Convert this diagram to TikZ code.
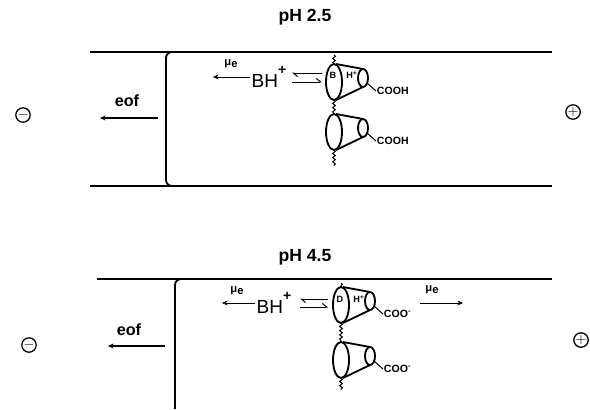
\documentclass[tikz,border=0pt]{standalone}
\usepackage{fontspec}
\setmainfont{Liberation Sans}
\usetikzlibrary{positioning}
\usetikzlibrary{arrows.meta}
\usetikzlibrary{decorations.pathmorphing}

\begin{document}
\begin{tikzpicture}[
                x=0.025cm, y=-0.025cm,
                >={Stealth[length=4pt,width=3.5pt]},
                % Define styles for nodes
                title/.style={font=\bfseries\fontsize{12.5}{14}\selectfont},
                label eof/.style={font=\bfseries\fontsize{11.5}{13}\selectfont},
                mu/.style={font=\bfseries\fontsize{8}{9}\selectfont, inner sep=1pt},
                ion/.style={font=\fontsize{13.5}{15}\selectfont, inner sep=1pt},
                group/.style={font=\bfseries\fontsize{7.5}{8}\selectfont, inner sep=0.5pt},
                guest/.style={font=\bfseries\fontsize{6.5}{7}\selectfont, inner sep=0pt},
                electrode/.style={circle, draw=black, line width=0.9pt, minimum size=0.36cm, inner sep=0pt},
                % Define styles for lines
                wall/.style={line width=1.3pt},
                flow/.style={->, line width=1.6pt},
                drift/.style={->, line width=0.5pt},
                equil/.style={line width=0.7pt},
                chain/.style={decorate, decoration={snake, amplitude=1pt, segment length=3pt}, line width=0.7pt},
                cup/.style={line width=1.3pt},
                % Cyclodextrin cup with its side group
                cyclo/.pic={
                    \draw[cup] (0,0) ellipse [x radius=8, y radius=18];
                    \draw[cup] (2,-18) -- (29,-13) (2,18) -- (29,5);
                    \draw[cup] (29,-4) ellipse [x radius=5, y radius=9];
                    \coordinate (-rim) at (33,1);
                    \coordinate (-top) at (0,-18);
                    \coordinate (-bottom) at (0,18);
                    \node[group, anchor=west] (-acid) at (42,9) {#1};
                    \draw[line width=0.7pt] (-rim) -- (-acid.west);
                }
            ]
                \useasboundingbox (0,0) rectangle (590,409);

                % Top channel, pH 2.5
                \node[title] (ph1) at (305,17) {pH 2.5};
                \draw[wall] (90,52) -- (552,52);
                \draw[wall] (90,186) -- (552,186);
                \draw[wall] (172,52) to[out=180,in=90] (166,58) -- (166,180) to[out=-90,in=180] (172,186);

                \node[electrode] (cathode1) at (23,115) {$-$};
                \node[electrode] (anode1) at (573,112) {$+$};

                \node[label eof] (eof1) at (127,101) {eof};
                \coordinate (eof1 tail) at (158,118);
                \coordinate (eof1 head) at (100,118);
                \draw[flow] (eof1 tail) -- (eof1 head);

                \node[ion] (bh1) at (269,77) {BH\raisebox{1.3ex}{\bfseries\fontsize{10}{10}\selectfont +}};
                \node[mu] (mu1) at (231,64) {μ\raisebox{-.3ex}{e}};
                \coordinate (mu1 head) at (213,77);
                \draw[drift] (bh1.west) -- (mu1 head);

                \pic (cd1) at (334,82) {cyclo=COOH};
                \pic (cd2) at (334,132) {cyclo=COOH};
                \node[guest] (guest1) at (333,75) {B};
                \node[guest] (host1) at (352,75) {H\textsuperscript{+}};

                \coordinate (eq1 left) at (292,73);
                \coordinate (eq1 right) at (322,73);
                \coordinate (eq2 left) at (292,82);
                \coordinate (eq2 right) at (322,82);
                \draw[equil, -{Straight Barb[harpoon,length=3pt,width=5pt]}] (eq1 right) -- (eq1 left);
                \draw[equil, -{Straight Barb[harpoon,length=3pt,width=5pt]}] (eq2 left) -- (eq2 right);

                \coordinate (chain1 top) at (334,55);
                \coordinate (chain1 end) at (334,166);
                \draw[chain] (chain1 top) -- (cd1-top);
                \draw[chain] (cd1-bottom) -- (cd2-top);
                \draw[chain] (cd2-bottom) -- (chain1 end);

                % Bottom channel, pH 4.5
                \node[title] (ph2) at (305,257) {pH 4.5};
                \draw[wall] (97,279) -- (552,279);
                \draw[wall] (181,279) to[out=180,in=90] (175,285) -- (175,409);

                \node[electrode] (cathode2) at (29,345) {$-$};
                \node[electrode] (anode2) at (581,340) {$+$};

                \node[label eof] (eof2) at (129,330) {eof};
                \coordinate (eof2 tail) at (165,346);
                \coordinate (eof2 head) at (108,346);
                \draw[flow] (eof2 tail) -- (eof2 head);

                \node[ion] (bh2) at (274,303) {BH\raisebox{1.3ex}{\bfseries\fontsize{10}{10}\selectfont +}};
                \node[mu] (mu2) at (237,291) {μ\raisebox{-.3ex}{e}};
                \coordinate (mu2 head) at (222,303);
                \draw[drift] (bh2.west) -- (mu2 head);

                \pic (cd3) at (341,305) {cyclo={COO\textsuperscript{-}}};
                \pic (cd4) at (341,360) {cyclo={COO\textsuperscript{-}}};
                \node[guest] (guest2) at (340,299) {D};
                \node[guest] (host2) at (359,299) {H\textsuperscript{+}};

                \coordinate (eq3 left) at (300,299);
                \coordinate (eq3 right) at (328,299);
                \coordinate (eq4 left) at (300,307);
                \coordinate (eq4 right) at (328,307);
                \draw[equil, -{Straight Barb[harpoon,length=3pt,width=5pt]}] (eq3 right) -- (eq3 left);
                \draw[equil, -{Straight Barb[harpoon,length=3pt,width=5pt]}] (eq4 left) -- (eq4 right);

                \node[mu] (mu3) at (432,290) {μ\raisebox{-.3ex}{e}};
                \coordinate (mu3 tail) at (420,303);
                \coordinate (mu3 head) at (463,303);
                \draw[drift] (mu3 tail) -- (mu3 head);

                \coordinate (chain2 top) at (341,283);
                \coordinate (chain2 end) at (341,390);
                \draw[chain] (chain2 top) -- (cd3-top);
                \draw[chain] (cd3-bottom) -- (cd4-top);
                \draw[chain] (cd4-bottom) -- (chain2 end);
            \end{tikzpicture}
\end{document}
